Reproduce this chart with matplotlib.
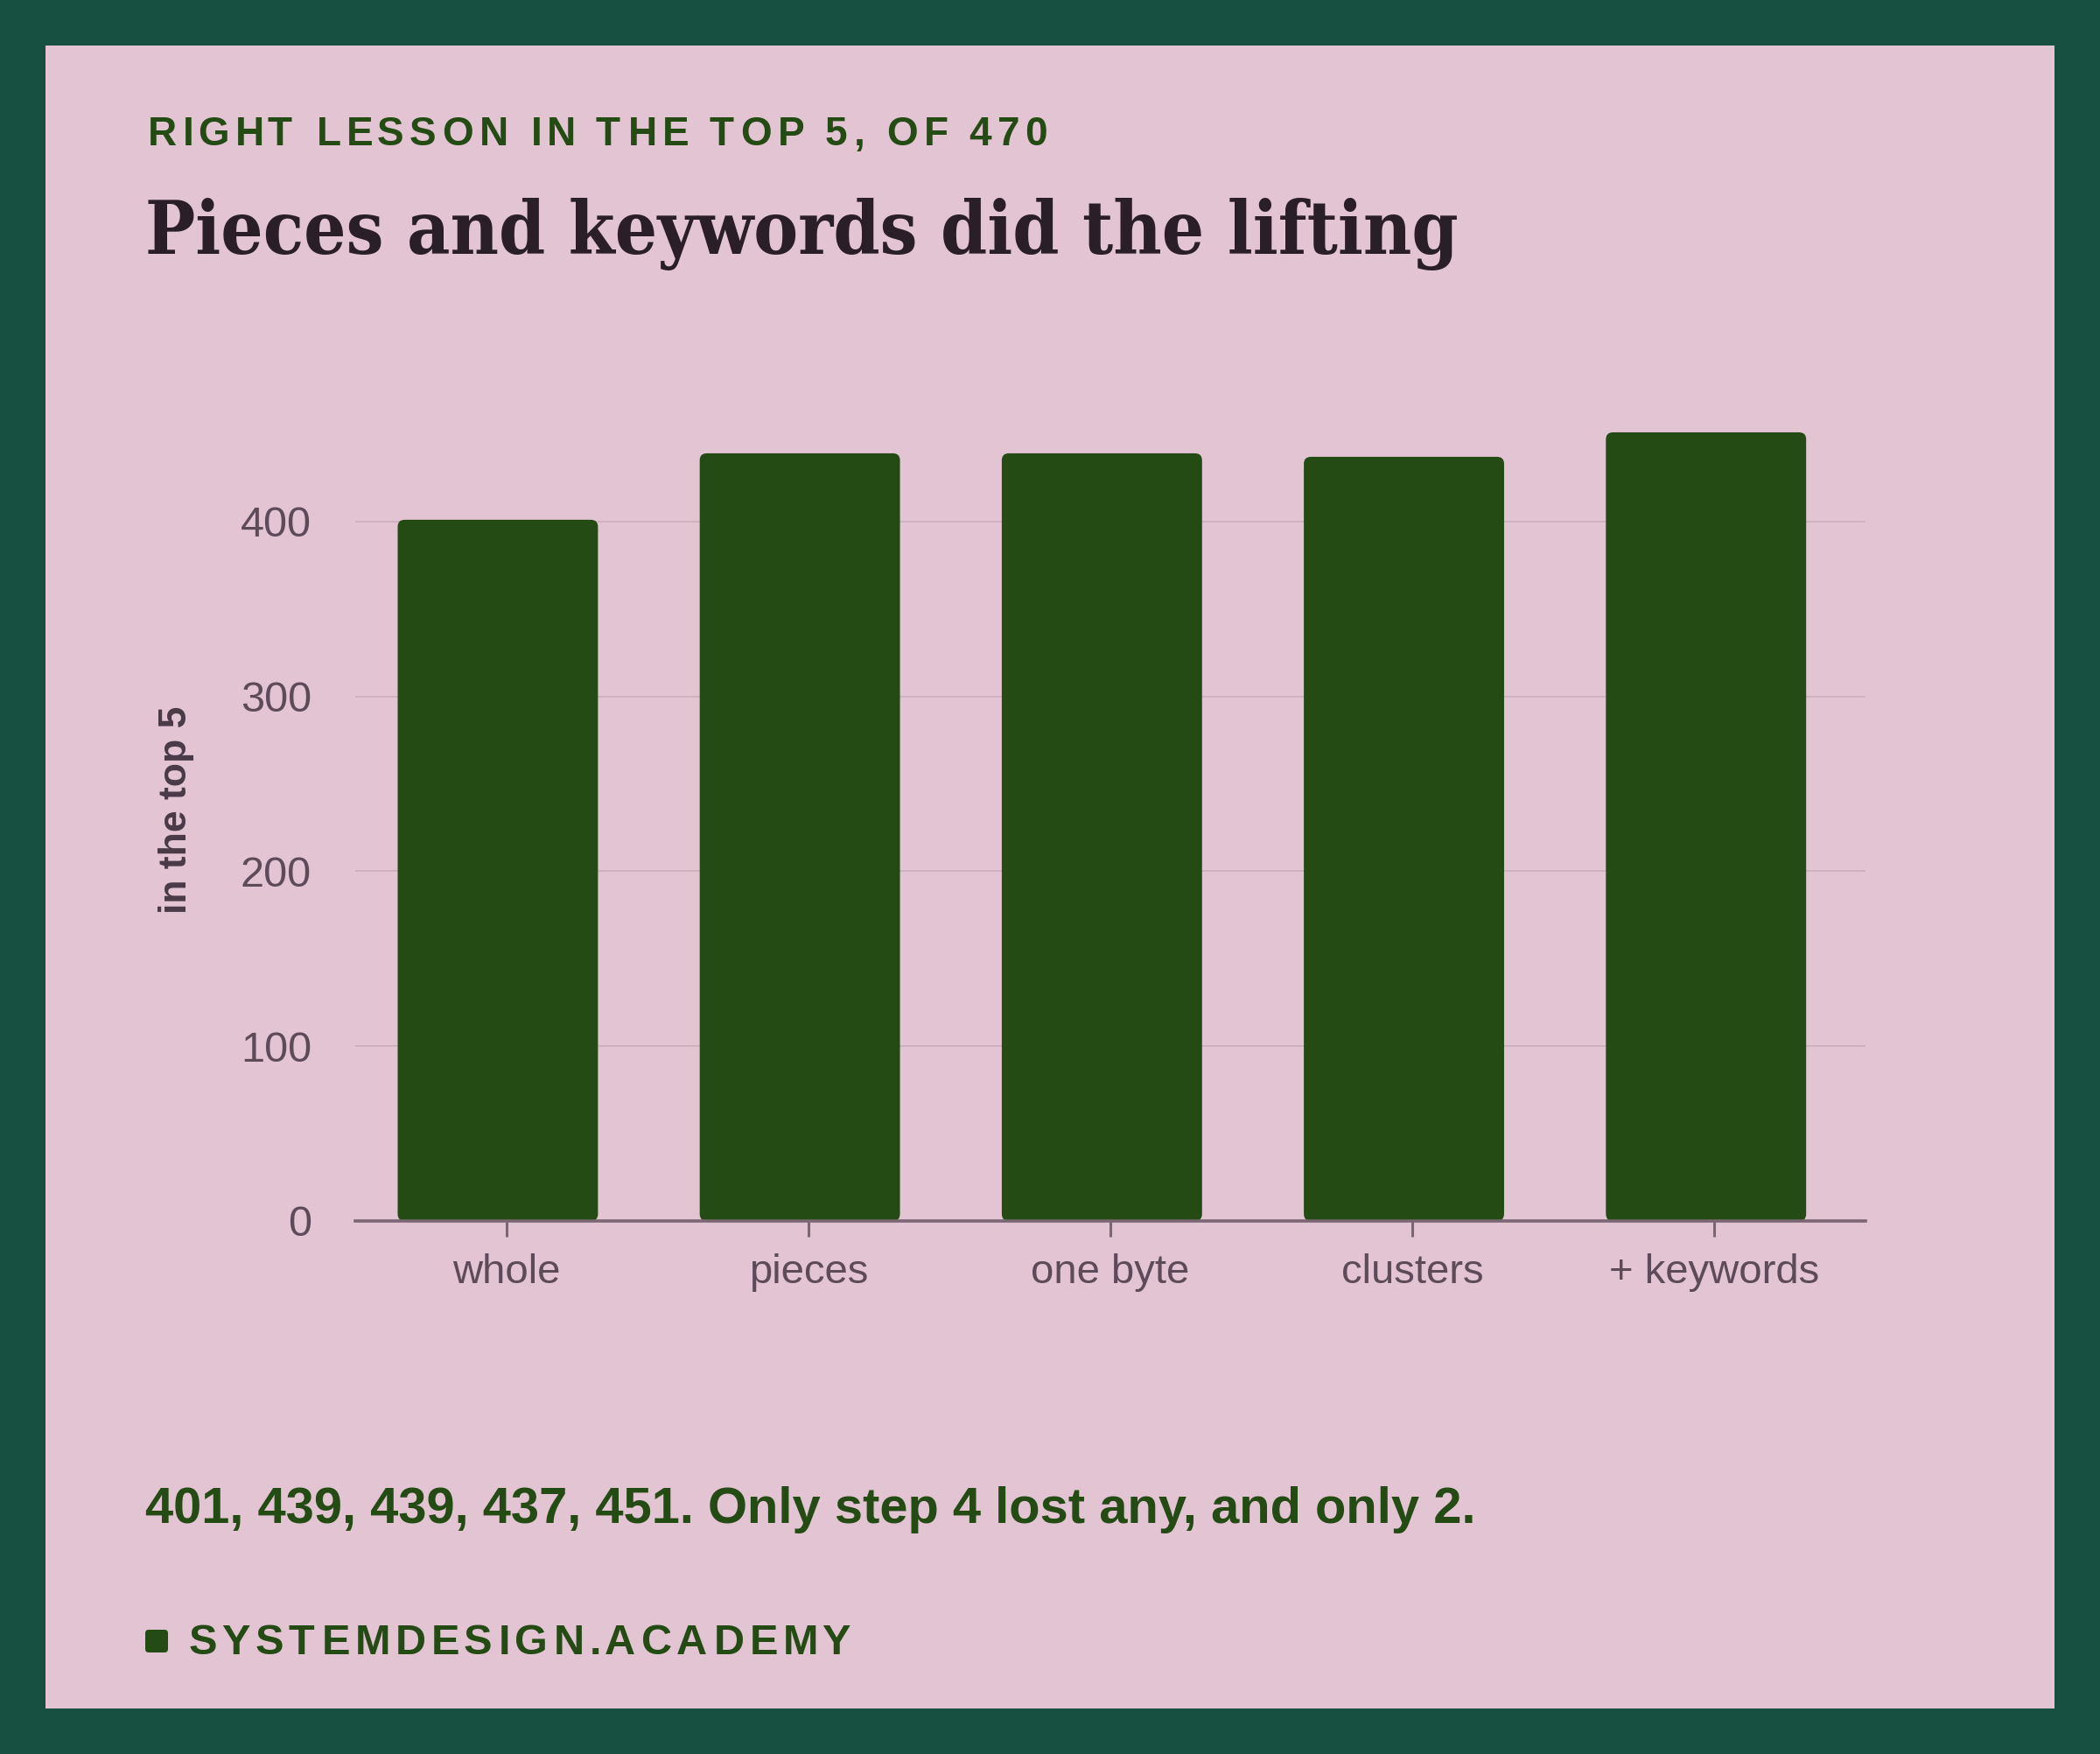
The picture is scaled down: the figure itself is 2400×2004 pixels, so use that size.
import matplotlib
matplotlib.use("Agg")
import matplotlib.pyplot as plt
import numpy as np
from matplotlib.patches import FancyBboxPatch, Rectangle
from matplotlib.transforms import IdentityTransform
from matplotlib import font_manager, ft2font
from matplotlib.font_manager import FontProperties

# ---------------- data ----------------
categories = ["whole", "pieces", "one byte", "clusters", "+ keywords"]
values = [401, 439, 439, 437, 451]
y_ticks = [0, 100, 200, 300, 400]
y_max = 470
kicker = "RIGHT LESSON IN THE TOP 5, OF 470"
title = "Pieces and keywords did the lifting"
y_label = "in the top 5"
caption = "401, 439, 439, 437, 451. Only step 4 lost any, and only 2."
footer = "SYSTEMDESIGN.ACADEMY"

# ---------------- style ----------------
BORDER = "#174F40"
PINK = "#E2C4D2"
GREEN = "#234B13"
TITLE_C = "#2A1E29"
TICK_C = "#5E4B5A"
YLAB_C = "#4A3A47"
GRID_C = "#CFB2C2"
BASE_C = "#7B6673"
SANS = "Liberation Sans"

# title font: DejaVu Serif Condensed Bold if present, else DejaVu Serif Bold smaller
cond = [f.fname for f in font_manager.fontManager.ttflist
        if "DejaVuSerifCondensed-Bold.ttf" in f.fname]
if cond:
    title_prop = FontProperties(fname=cond[0], size=61)
else:
    title_prop = FontProperties(family="DejaVu Serif", weight="bold", size=55)

W, H, DPI = 2400, 2004, 100
fig = plt.figure(figsize=(W / DPI, H / DPI), dpi=DPI)
fig.patch.set_facecolor(BORDER)
fig.patches.append(Rectangle((52 / W, 52 / H), (W - 104) / W, (H - 104) / H,
                             transform=fig.transFigure, facecolor=PINK,
                             edgecolor="none", zorder=-5))

# axes
ax_l, ax_r, ax_t, ax_b = 406, 2132, 456, 1395
ax = fig.add_axes([ax_l / W, (H - ax_b) / H, (ax_r - ax_l) / W, (ax_b - ax_t) / H])
ax.set_facecolor("none")
x = np.arange(len(categories))
ax.set_xlim(-0.5, len(categories) - 0.5)
ax.set_ylim(0, y_max)

BAR_W = 0.663
BAR_SHIFT = -0.028
bars = ax.bar(x + BAR_SHIFT, values, width=BAR_W, color=GREEN, zorder=2)
px_per_x = (ax_r - ax_l) / len(categories)
px_per_y = (ax_b - ax_t) / y_max
radius_px = 8
for b in bars:
    b.set_visible(False)
    ax.add_patch(FancyBboxPatch((b.get_x(), b.get_y()), b.get_width(), b.get_height(),
                                boxstyle=f"round,pad=0,rounding_size={radius_px / px_per_x}",
                                mutation_aspect=px_per_x / px_per_y,
                                facecolor=GREEN, edgecolor="none", zorder=2))

ax.set_yticks(y_ticks)
ax.set_yticklabels([str(t) for t in y_ticks])
ax.set_xticks(x)
ax.set_xticklabels(categories)
ax.grid(axis="y", color=GRID_C, linewidth=1.4, zorder=0)
ax.set_axisbelow(True)
for s in ["left", "right", "top"]:
    ax.spines[s].set_visible(False)
ax.spines["bottom"].set_color(BASE_C)
ax.spines["bottom"].set_linewidth(2.6)
ax.spines["bottom"].set_zorder(3)
ax.tick_params(axis="y", length=0, pad=36, labelsize=35, labelcolor=TICK_C)
ax.tick_params(axis="x", length=13, width=2.2, color=BASE_C, pad=14,
               labelsize=34, labelcolor=TICK_C)
for lab in ax.get_xticklabels() + ax.get_yticklabels():
    lab.set_fontfamily(SANS)

fig.text(201 / W, 1 - ((ax_t + ax_b) / 2) / H, y_label, rotation=90, ha="center",
         va="center", fontsize=32, fontweight="bold", family=SANS, color=YLAB_C)


def tracked_text(x_px, baseline_px, s, size, tracking_em, color, family=SANS, weight="bold"):
    prop = FontProperties(family=family, weight=weight, size=size)
    font = ft2font.FT2Font(font_manager.findfont(prop))
    font.set_size(size, DPI)
    xp = x_px
    for ch in s:
        g = font.load_char(ord(ch))
        if ch != " ":
            fig.text(xp + g.horiBearingX / 64, H - baseline_px, ch, transform=IdentityTransform(),
                     fontproperties=prop, color=color, ha="left", va="baseline")
        xp += g.linearHoriAdvance / 65536 + tracking_em * size * DPI / 72


# kicker
tracked_text(166, 166, kicker, 33, 0.135, GREEN)
# title
fig.text(166 / W, 1 - 290 / H, title, ha="left", va="baseline",
         fontproperties=title_prop, color=TITLE_C)
# caption
fig.text(166 / W, 1 - 1740 / H, caption, ha="left", va="baseline", fontsize=41.7,
         fontweight="bold", family=SANS, color=GREEN)
# footer
fig.add_artist(FancyBboxPatch((166, H - 1888), 26, 26, boxstyle="round,pad=0,rounding_size=4",
                              transform=IdentityTransform(), facecolor=GREEN, edgecolor="none"))
tracked_text(214, 1890, footer, 35, 0.12, GREEN)

fig.savefig("out.png", dpi=DPI, facecolor=fig.get_facecolor())
